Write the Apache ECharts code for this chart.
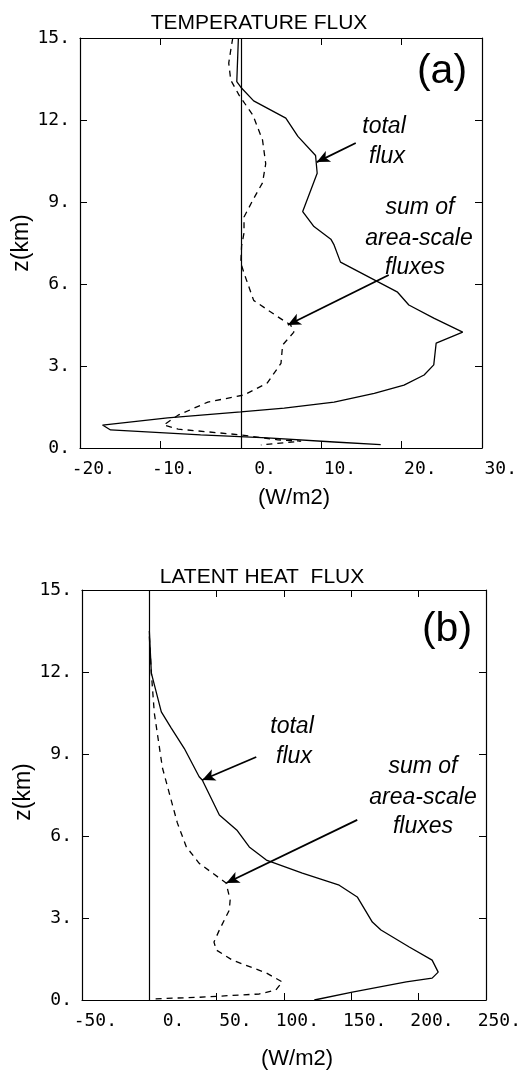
<!DOCTYPE html>
<html>
<head>
<meta charset="utf-8">
<script src="https://cdn.jsdelivr.net/npm/echarts@6/dist/echarts.min.js"></script>
<style>
html,body{margin:0;padding:0;background:#fff;}
#chart{width:529px;height:1072px;}
</style>
</head>
<body>
<div id="chart"></div>
<script>
// ---- Data (x = flux W/m2, z = height km) ----
const tempTicksX = [-20, -10, 0, 10, 20, 30];
const latentTicksX = [-50, 0, 50, 100, 150, 200, 250];
const heightTicks = [0, 3, 6, 9, 12, 15];

const tempTotal = [[-0.3,15],[-0.5,13.4],[0,13.2],[1.6,12.7],[5.6,12.07],[7.1,11.4],[9.3,10.7],[9.5,10.05],[7.7,8.65],[9.1,8.1],[11.2,7.64],[11.6,7.43],[12.4,6.8],[19.5,5.7],[20.9,5.23],[24.0,4.75],[27.6,4.24],[24.3,3.84],[24.0,3.04],[22.8,2.67],[20.3,2.3],[16.6,2.0],[11.6,1.68],[5.4,1.46],[0,1.32],[-9.1,1.1],[-17.2,0.84],[-16.2,0.66],[-5,0.48],[3.3,0.37],[11.6,0.22],[17.4,0.12]];
const tempArea = [[-1.0,15],[-1.25,14.56],[-1.5,14.08],[-1.25,13.46],[-0.2,12.9],[1.5,12.18],[2.7,11.27],[3.1,10.4],[2.7,9.7],[1.5,9.07],[0.4,8.45],[0.4,7.87],[0.1,7.4],[0,6.77],[0.4,6.4],[1.6,5.4],[4.6,4.8],[6.2,4.5],[6.6,4.24],[5.2,3.77],[5.0,3.1],[3.3,2.38],[0.4,1.94],[-4.1,1.68],[-7.8,1.2],[-9.6,0.84],[-7.8,0.69],[0,0.48],[4.6,0.3],[7.5,0.25],[2.5,0.11]];

const latentTotal = [[0,13.5],[1.5,11.96],[8.9,10.54],[16.3,9.95],[26,9.2],[37,8.17],[39.3,8.05],[52,6.77],[65.3,6.2],[74.2,5.6],[86.9,5.12],[113.6,4.64],[141,4.2],[154.4,3.77],[165.6,2.85],[172,2.56],[193,1.94],[210,1.46],[214.5,1.02],[210,0.8],[190.8,0.66],[150.7,0.29],[122.5,0.0]];
const latentArea = [[0,13.3],[1.5,11.96],[3.7,10.5],[9.7,8.5],[14.8,7.57],[20.8,6.48],[27.5,5.6],[37,5.0],[57,4.28],[60,3.66],[59.4,3.29],[52,2.56],[48,2.12],[49.7,1.83],[61.6,1.46],[86.9,0.99],[98.7,0.66],[94,0.37],[81.7,0.22],[37,0.1],[2.2,0.04]];

// annotation arrows [from, to] in data coordinates
const tempArrows = [[[14.3,11.16],[9.45,10.46]], [[18.4,6.33],[5.85,4.5]]];
const latentArrows = [[[79.4,8.89],[39.3,8.05]], [[154.4,6.59],[57.2,4.28]]];

const chart = echarts.init(document.getElementById('chart'));
const monoFont = 'DejaVu Sans Mono';
const sans = 'Liberation Sans';

function xAxes(gi, min, max, interval) {
  const base = {
    type: 'value', gridIndex: gi, min: min, max: max, interval: interval,
    splitLine: {show: false},
    axisLine: {show: true, onZero: false, lineStyle: {color: '#000', width: 1.2}},
    axisTick: {show: true, inside: true, length: 7, lineStyle: {color: '#000', width: 1}}
  };
  return [
    Object.assign({}, base, {position: 'bottom',
      axisLabel: {show: true, margin: 12, color: '#000', fontFamily: monoFont, fontSize: 18,
        formatter: v => '{a|' + v + '.}',
        rich: {a: {width: 70, align: 'right', fontFamily: monoFont, fontSize: 18, color: '#000'}}}}),
    Object.assign({}, base, {position: 'top', axisLabel: {show: false}})
  ];
}
function yAxes(gi) {
  const base = {
    type: 'value', gridIndex: gi, min: 0, max: 15, interval: 3,
    splitLine: {show: false},
    axisLine: {show: true, onZero: false, lineStyle: {color: '#000', width: 1.2}},
    axisTick: {show: true, inside: true, length: 7, lineStyle: {color: '#000', width: 1}}
  };
  return [
    Object.assign({}, base, {position: 'left',
      axisLabel: {show: true, margin: 10, color: '#000', fontFamily: monoFont, fontSize: 18,
        formatter: v => v + '.'}}),
    Object.assign({}, base, {position: 'right', axisLabel: {show: false}})
  ];
}

function arrowLines(arr) {
  return arr.map(a => [{coord: a[0]}, {coord: a[1]}]);
}

function panelSeries(xi, yi, total, area, arrows) {
  return [
    {type: 'line', xAxisIndex: xi, yAxisIndex: yi, data: total, symbol: 'none', silent: true,
      lineStyle: {color: '#000', width: 1.3},
      markLine: {silent: true, symbol: ['none', 'arrow'], symbolSize: [9, 13],
        label: {show: false}, lineStyle: {color: '#000', width: 1.8, type: 'solid'},
        data: arrowLines(arrows)}},
    {type: 'line', xAxisIndex: xi, yAxisIndex: yi, data: area, symbol: 'none', silent: true,
      lineStyle: {color: '#000', width: 1.3, type: [6, 5]},
      markLine: {silent: true, symbol: ['none', 'none'], label: {show: false},
        lineStyle: {color: '#000', width: 1.2, type: 'solid'},
        data: [{xAxis: 0}]}}
  ];
}

function txt(x, y, s, size, opts) {
  return Object.assign({type: 'text', x: x, y: y, silent: true,
    style: Object.assign({text: s, fill: '#000', font: size + 'px "' + sans + '"', align: 'center', verticalAlign: 'middle'}, opts || {})});
}
function itx(x, y, s) {
  return txt(x, y, s, 23, {font: 'italic 23px "' + sans + '"'});
}

const option = {
  animation: false,
  backgroundColor: '#fff',
  grid: [
    {left: 80, top: 38, width: 402, height: 410, show: false},
    {left: 82, top: 590, width: 404, height: 410, show: false}
  ],
  xAxis: [].concat(xAxes(0, -20, 30, 10), xAxes(1, -50, 250, 50)),
  yAxis: [].concat(yAxes(0), yAxes(1)),
  series: [].concat(
    panelSeries(0, 0, tempTotal, tempArea, tempArrows),
    panelSeries(2, 2, latentTotal, latentArea, latentArrows)
  ),
  graphic: [
    txt(259, 23, 'TEMPERATURE FLUX', 21),
    txt(262, 577, 'LATENT HEAT  FLUX', 21),
    txt(442, 72, '(a)', 41),
    txt(447, 630, '(b)', 41),
    txt(294, 498, '(W/m2)', 22),
    txt(297, 1059, '(W/m2)', 22),
    {type: 'text', x: 22, y: 243, rotation: Math.PI / 2, silent: true,
      style: {text: 'z(km)', fill: '#000', font: '23px "' + sans + '"', align: 'center', verticalAlign: 'middle'}},
    {type: 'text', x: 24, y: 792, rotation: Math.PI / 2, silent: true,
      style: {text: 'z(km)', fill: '#000', font: '23px "' + sans + '"', align: 'center', verticalAlign: 'middle'}},
    itx(384, 127, 'total'),
    itx(387, 157, 'flux'),
    itx(420, 208, 'sum of'),
    itx(419, 239, 'area-scale'),
    itx(415, 268, 'fluxes'),
    itx(292, 727, 'total'),
    itx(294, 757, 'flux'),
    itx(423, 767, 'sum of'),
    itx(423, 798, 'area-scale'),
    itx(423, 827, 'fluxes')
  ]
};
chart.setOption(option);
</script>
</body>
</html>
